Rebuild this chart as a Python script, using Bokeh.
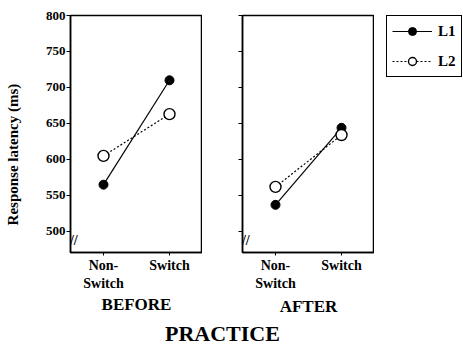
from bokeh.plotting import figure
from bokeh.models import (FactorRange, Range1d, FixedTicker, Label, Legend, LegendItem, Div)
from bokeh.layouts import column, row
from bokeh.embed import file_html
from bokeh.resources import INLINE

categories = ["Non-\nSwitch", "Switch"]
before_L1 = [565, 710]
before_L2 = [605, 663]
after_L1 = [537, 644]
after_L2 = [562, 634]
y_ticks = [500, 550, 600, 650, 700, 750, 800]
panel_titles = ["BEFORE", "AFTER"]
series_names = ["L1", "L2"]
y_title = "Response latency (ms)"
x_title = "PRACTICE"

FONT = "Liberation Serif"
H = 320
L1_STYLE = dict(line_color="black", line_width=1.2)
L2_STYLE = dict(line_color="black", line_width=1.2, line_dash="2 2")
M1_STYLE = dict(size=9, marker="circle", fill_color="black", line_color="black")
M2_STYLE = dict(size=11, marker="circle", fill_color="white", line_color="black", line_width=1.4)


def make_panel(l1, l2, title, show_labels, width, min_left, label_standoff):
    p = figure(x_range=FactorRange(factors=categories, range_padding=0),
               y_range=Range1d(470.8, 800),
               width=width, height=H, output_backend="svg", toolbar_location=None,
               min_border_left=min_left, min_border_right=0,
               min_border_top=15, min_border_bottom=H - 15 - 237)
    p.grid.visible = False
    p.outline_line_color = "black"
    p.outline_line_width = 1.5
    p.background_fill_color = "white"
    p.border_fill_color = "white"

    p.line(categories, l1, **L1_STYLE)
    p.line(categories, l2, **L2_STYLE)
    p.scatter(categories, l1, **M1_STYLE)
    p.scatter(categories, l2, **M2_STYLE)

    ya = p.yaxis[0]
    ya.ticker = FixedTicker(ticks=y_ticks)
    ya.minor_tick_line_color = None
    ya.major_tick_out = 4
    ya.major_tick_in = 0
    ya.axis_line_width = 1.5
    ya.major_tick_line_width = 1.2
    ya.major_label_standoff = 1
    ya.major_label_text_font = FONT
    ya.major_label_text_font_style = "bold"
    ya.major_label_text_font_size = "13px"
    ya.major_label_text_color = "black"
    if not show_labels:
        ya.major_label_text_alpha = 0

    xa = p.xaxis[0]
    xa.axis_label = title
    xa.axis_label_text_font = FONT
    xa.axis_label_text_font_style = "bold"
    xa.axis_label_text_font_size = "17px"
    xa.axis_label_text_color = "black"
    xa.axis_label_standoff = label_standoff
    xa.major_tick_out = 3
    xa.major_tick_in = 0
    xa.axis_line_width = 1.5
    xa.major_label_standoff = 2
    xa.major_label_text_font = FONT
    xa.major_label_text_font_style = "bold"
    xa.major_label_text_font_size = "14px"
    xa.major_label_text_color = "black"
    xa.major_label_orientation = "horizontal"

    # axis break marker
    p.add_layout(Label(x=0.05, y=487, text="//", text_font=FONT, text_font_size="14px",
                       text_font_style="bold", text_align="center", text_baseline="middle",
                       text_color="black"))
    return p


p1 = make_panel(before_L1, before_L2, panel_titles[0], True, 202, 70, 1)
p2 = make_panel(after_L1, after_L2, panel_titles[1], False, 172, 40, 3)

ya1 = p1.yaxis[0]
ya1.axis_label = y_title + "\u00a0" * 11
ya1.axis_label_text_font = FONT
ya1.axis_label_text_font_style = "bold"
ya1.axis_label_text_font_size = "15px"
ya1.axis_label_text_color = "black"
ya1.axis_label_standoff = 22

# legend panel: the series are plotted outside its (hidden) view, only the legend shows
p3 = figure(width=89, height=H, output_backend="svg", toolbar_location=None,
            x_range=FactorRange(factors=categories), y_range=Range1d(0, 1),
            x_axis_location=None, y_axis_location=None,
            min_border_left=12, min_border_right=0, min_border_top=15, min_border_bottom=0)
p3.grid.visible = False
p3.outline_line_color = None
p3.border_fill_color = "white"
l1a = p3.line(categories, after_L1, **L1_STYLE)
l1b = p3.scatter(categories, after_L1, **M1_STYLE)
l2a = p3.line(categories, after_L2, **L2_STYLE)
l2b = p3.scatter(categories, after_L2, **M2_STYLE)
legend = Legend(items=[LegendItem(label=series_names[0], renderers=[l1a, l1b]),
                       LegendItem(label=series_names[1], renderers=[l2a, l2b])],
                location="top_left", margin=0, padding=5, spacing=10,
                glyph_width=40, glyph_height=20, label_standoff=6, label_width=17,
                label_text_font=FONT, label_text_font_style="bold", label_text_font_size="15px",
                label_text_color="black", border_radius=0,
                border_line_color="black", border_line_width=1.5, border_line_alpha=1,
                background_fill_color="white", background_fill_alpha=1)
p3.add_layout(legend)

div = Div(text=x_title, width=463, height=27,
          styles={"font-family": FONT, "font-weight": "bold", "font-size": "22px",
                  "line-height": "18px", "padding-left": "160px", "color": "black",
                  "box-sizing": "border-box"})

layout = column(row(p1, p2, p3), div)
open("out.html", "w").write(file_html(layout, INLINE))
